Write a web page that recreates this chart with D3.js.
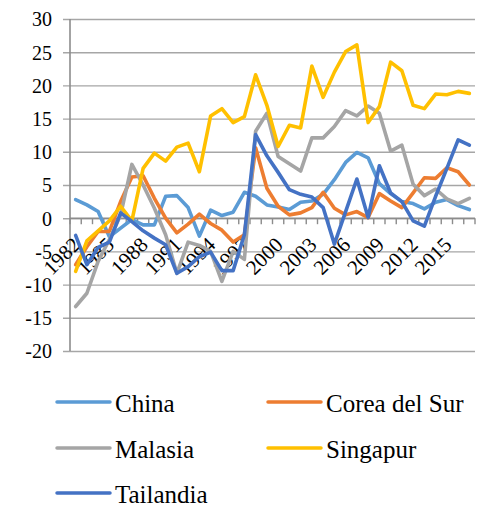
<!DOCTYPE html>
<html>
<head>
<meta charset="utf-8">
<script src="https://cdn.jsdelivr.net/npm/d3@7"></script>
<style>
  body { margin: 0; background: #fff; }
</style>
</head>
<body>
<div id="chart"></div>
<script>
const years = d3.range(1982, 2018).map(String);
const labelYears = ["1982", "1985", "1988", "1991", "1994", "1997", "2000", "2003", "2006", "2009", "2012", "2015"];
const yTicks = [-20, -15, -10, -5, 0, 5, 10, 15, 20, 25, 30];

const names = ["China", "Corea del Sur", "Malasia", "Singapur", "Tailandia"];
const china = [2.8, 2.0, 1.0, -2.8, -1.5, -0.2, -1.0, -1.0, 3.3, 3.4, 1.6, -2.7, 1.2, 0.4, 0.9, 3.9, 3.3, 2.0, 1.7, 1.3, 2.4, 2.6, 3.6, 5.8, 8.4, 9.9, 9.1, 5.2, 3.7, 2.5, 2.2, 1.4, 2.4, 2.8, 1.9, 1.3];
const corea = [-7.0, -4.3, -2.0, -2.0, 2.5, 6.2, 6.4, 3.0, 0.0, -2.2, -0.9, 0.6, -0.8, -1.8, -3.6, -2.5, 10.6, 4.5, 1.8, 0.5, 0.8, 1.6, 3.9, 1.5, 0.5, 1.0, 0.1, 3.7, 2.6, 1.6, 3.8, 6.1, 6.0, 7.6, 7.0, 5.0];
const malasia = [-13.3, -11.3, -6.5, -3.2, 0.5, 8.1, 5.0, 1.5, -2.5, -8.3, -3.6, -4.1, -5.0, -9.5, -5.0, -6.2, 13.1, 15.8, 9.3, 8.2, 7.1, 12.1, 12.1, 13.8, 16.2, 15.4, 16.9, 15.8, 10.1, 11.0, 5.1, 3.4, 4.4, 2.9, 2.2, 3.0];
const singapur = [-8.0, -3.4, -1.9, -0.4, 1.8, -0.4, 7.5, 9.8, 8.6, 10.7, 11.3, 7.0, 15.4, 16.5, 14.4, 15.3, 21.6, 17.0, 10.8, 14.0, 13.6, 22.9, 18.2, 22.0, 25.1, 26.1, 14.4, 16.8, 23.5, 22.2, 17.0, 16.5, 18.7, 18.6, 19.1, 18.8];
const tailandia = [-2.6, -7.0, -4.4, -3.6, 0.8, -0.5, -1.9, -3.0, -4.0, -8.3, -7.3, -5.8, -5.1, -7.9, -7.9, -2.5, 12.6, 9.4, 6.9, 4.3, 3.6, 3.2, 1.6, -3.9, 1.0, 5.9, 0.1, 7.9, 3.8, 2.5, -0.4, -1.2, 3.3, 7.5, 11.8, 11.0];
const colors = ["#5B9BD5", "#ED7D31", "#A5A5A5", "#FFC000", "#4472C4"];

const series = [china, corea, malasia, singapur, tailandia].map((vals, i) => ({
    name: names[i], color: colors[i], values: vals
}));

const FONT = "'Liberation Serif', 'Times New Roman', 'DejaVu Serif', serif";
const W = 486, H = 507;
const plot = { left: 70, right: 475, top: 19, bottom: 351 };

const svg = d3.select("#chart")
    .append("svg")
    .attr("width", W)
    .attr("height", H)
    .style("font-family", FONT);

const x = d3.scaleBand()
    .domain(years)
    .range([plot.left, plot.right]);

const y = d3.scaleLinear()
    .domain([-20, 30])
    .range([plot.bottom, plot.top]);

// gridlines + y labels
const yAxis = svg.append("g")
    .attr("transform", `translate(${plot.left},0)`)
    .call(d3.axisLeft(y)
        .tickValues(yTicks)
        .tickSize(0)
        .tickPadding(18)
        .tickFormat(d => String(d)))
    .attr("font-family", null);
yAxis.select(".domain").remove();
yAxis.selectAll(".tick line")
    .attr("x1", -7)
    .attr("x2", plot.right - plot.left)
    .attr("stroke", "#A6A6A6")
    .attr("stroke-width", 1.4);
yAxis.selectAll("text")
    .style("font-family", FONT)
    .style("font-size", "20px")
    .attr("fill", "#000")
    .attr("dy", "0.34em");

// left axis line
svg.append("line")
    .attr("x1", plot.left).attr("x2", plot.left)
    .attr("y1", plot.top).attr("y2", plot.bottom)
    .attr("stroke", "#8C8C8C")
    .attr("stroke-width", 1.6);

// x axis at zero
const y0 = y(0);
svg.append("line")
    .attr("x1", plot.left).attr("x2", plot.right)
    .attr("y1", y0).attr("y2", y0)
    .attr("stroke", "#8C8C8C")
    .attr("stroke-width", 1.6);

const bounds = years.map(d => x(d)).concat([plot.right]);
svg.selectAll(".xtick")
    .data(bounds)
    .enter()
    .append("line")
    .attr("class", "xtick")
    .attr("x1", d => d).attr("x2", d => d)
    .attr("y1", y0).attr("y2", y0 + 6)
    .attr("stroke", "#8C8C8C")
    .attr("stroke-width", 1.4);

svg.selectAll(".xlabel")
    .data(labelYears)
    .enter()
    .append("text")
    .attr("class", "xlabel")
    .attr("text-anchor", "end")
    .attr("transform", d => `translate(${x(d) + x.bandwidth() / 2 + 6},${y0 + 28}) rotate(-45)`)
    .style("font-family", FONT)
    .style("font-size", "21px")
    .text(d => d);

// lines
const line = d3.line()
    .x((d, i) => x(years[i]) + x.bandwidth() / 2)
    .y(d => y(d));

svg.selectAll(".series")
    .data(series)
    .enter()
    .append("path")
    .attr("class", "series")
    .attr("d", d => line(d.values))
    .attr("fill", "none")
    .attr("stroke", d => d.color)
    .attr("stroke-width", 3.6)
    .attr("stroke-linejoin", "round")
    .attr("stroke-linecap", "round");

// legend
const legendPos = [[57, 402], [268, 402], [57, 448], [268, 448], [57, 493]];
const legend = svg.selectAll(".legend")
    .data(series)
    .enter()
    .append("g")
    .attr("class", "legend")
    .attr("transform", (d, i) => `translate(${legendPos[i][0]},${legendPos[i][1]})`);

legend.append("line")
    .attr("x1", 0).attr("x2", 53)
    .attr("y1", 0).attr("y2", 0)
    .attr("stroke", d => d.color)
    .attr("stroke-width", 3.5)
    .attr("stroke-linecap", "round");

legend.append("text")
    .attr("x", 58)
    .attr("dy", "0.38em")
    .style("font-family", FONT)
    .style("font-size", "25px")
    .text(d => d.name);
</script>
</body>
</html>
